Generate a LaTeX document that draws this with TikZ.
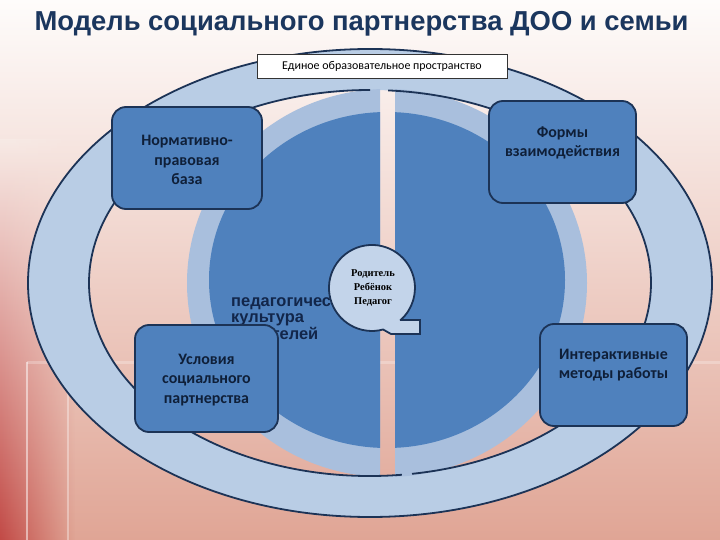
\documentclass[tikz,border=0pt]{standalone}
\usepackage{fontspec}
\setmainfont{Carlito}
\newfontfamily\arialf{Liberation Sans}
\newfontfamily\timesf{Liberation Serif}
\usetikzlibrary{fadings}
\definecolor{ringc}{HTML}{B9CDE5}
\definecolor{bandc}{HTML}{A9BFDD}
\definecolor{darkb}{HTML}{4F81BD}
\definecolor{navy}{HTML}{1C3356}
\definecolor{txt}{HTML}{0F1F38}
\definecolor{titlec}{HTML}{1B365E}
\definecolor{pedc}{HTML}{12264A}
\definecolor{circc}{HTML}{C3D4EA}
\definecolor{bgtop}{HTML}{FEFCFB}
\definecolor{bgmid}{HTML}{F2DCD4}
\definecolor{bgbot}{HTML}{E0A595}
\definecolor{leftred}{HTML}{C24A46}
\tikzfading[name=fadeleft, left color=transparent!0, right color=transparent!100]
\begin{document}
\begin{tikzpicture}[x=1bp,y=-1bp,
  box/.style={draw=navy, line width=1.8bp, fill=darkb, rounded corners=14bp},
  boxtext/.style={text=txt, align=center, font=\fontsize{16}{19.5}\selectfont\bfseries},
  ringline/.style={draw=navy, line width=1.8bp}]
\useasboundingbox (0,0) rectangle (720,540);
% background
\shade[top color=bgtop, middle color=bgmid, bottom color=bgbot] (0,0) rectangle (720,540);
\shade[top color=bgtop!45!bgmid, bottom color=leftred, path fading=fadeleft] (0,140) rectangle (75,540);
\draw[white, opacity=0.5, line width=2bp] (27,362) -- (27,540);
\draw[white, opacity=0.35, line width=2bp] (68,362) -- (68,540);
\draw[white, opacity=0.25, line width=3bp] (27,362) -- (720,362);
% title
\node[anchor=base, text=titlec, font=\arialf\bfseries\fontsize{27.5}{32}\selectfont] (title) at (361.5,31) {Модель социального партнерства ДОО и семьи};
% outer ring
\fill[ringc, even odd rule] (370,283) ellipse [x radius=342, y radius=234] (370,283) ellipse [x radius=281, y radius=193];
% inner band and dark halves
\begin{scope}
  \clip (0,0) rectangle (380,540);
  \fill[bandc] (387,283) ellipse [x radius=200, y radius=194];
  \fill[darkb] (387,280) ellipse [x radius=178, y radius=168];
\end{scope}
\begin{scope}
  \clip (395,0) rectangle (720,540);
  \fill[bandc] (387,283) ellipse [x radius=200, y radius=194];
  \fill[darkb] (387,280) ellipse [x radius=178, y radius=168];
\end{scope}
\draw[ringline] (370,283) ellipse [x radius=342, y radius=234];
\draw[ringline] (370,283) ++(83.5:281 and 193) arc[start angle=83.5, end angle=270, x radius=281, y radius=193];
\draw[ringline] (370,283) ++(273.7:281 and 193) arc[start angle=273.7, end angle=441.4, x radius=281, y radius=193];
% top label
\node[draw=black!80, line width=0.8bp, fill=white, minimum width=250bp, minimum height=24bp, inner sep=0pt, font=\fontsize{12}{13}\selectfont] (edu) at (382,66) {Единое образовательное пространство};
% partially hidden text
\node[anchor=north west, inner sep=0pt, align=left, text=pedc, font=\arialf\bfseries\fontsize{16.5}{17}\selectfont] (ped) at (231,297) {педагогическая\\культура\\родителей};
% boxes
\node[box, minimum width=150bp, minimum height=102bp] (norm) at (187,158) {};
\node[boxtext] (normT) at (187,160) {Нормативно-\\правовая\\база};
\node[box, minimum width=147bp, minimum height=102bp] (form) at (562.5,152) {};
\node[boxtext] (formT) at (562.5,143) {Формы\\взаимодействия};
\node[box, minimum width=143bp, minimum height=107bp] (usl) at (206.5,378.5) {};
\node[boxtext] (uslT) at (206.5,380) {Условия\\социального\\партнерства};
\node[box, minimum width=147bp, minimum height=102bp] (inter) at (613.5,375) {};
\node[boxtext] (interT) at (613.5,365) {Интерактивные\\методы работы};
% centre circle with hook
\filldraw[fill=circc, draw=navy, line width=1.8bp] (400.8,320) -- (420,320) -- (420,334) -- (391,334) -- (383.1,329.5) arc[start angle=75, end angle=408, radius=43] -- cycle;
\node[align=center, text=black, font=\timesf\bfseries\fontsize{10.5}{14}\selectfont] (rrp) at (373,288) {Родитель\\Ребёнок\\Педагог};
\end{tikzpicture}
\end{document}
